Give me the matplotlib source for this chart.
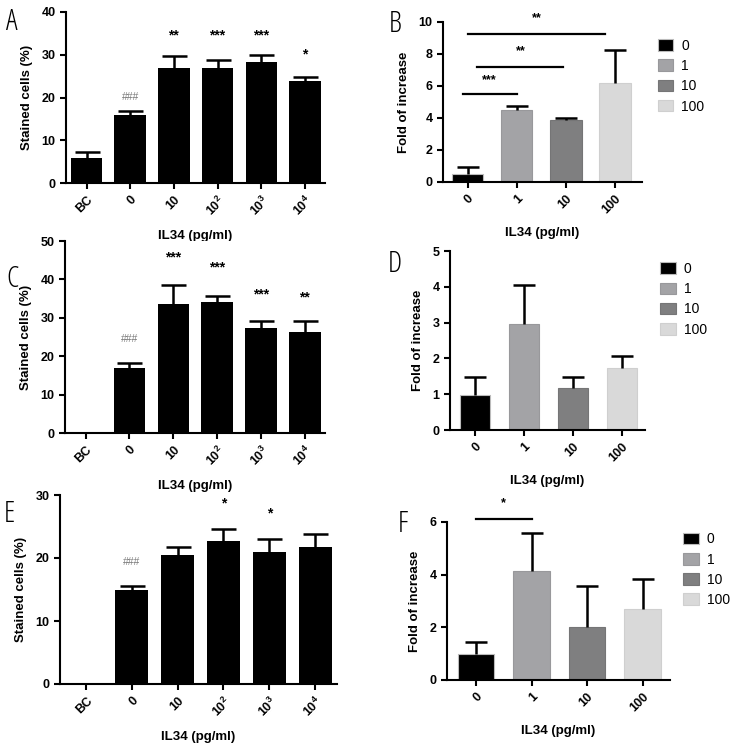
import matplotlib.pyplot as plt
import numpy as np

plt.rcParams['font.family'] = ['Liberation Sans', 'DejaVu Sans']
plt.rcParams['mathtext.fontset'] = 'custom'
plt.rcParams['mathtext.bf'] = 'Liberation Sans:bold'
plt.rcParams['mathtext.rm'] = 'Liberation Sans'

# stained cells panels (A, C, E)
dose_labels = ['BC', '0', '10', r'$\mathbf{10^{2}}$', r'$\mathbf{10^{3}}$', r'$\mathbf{10^{4}}$']
a_vals = [5.9, 15.8, 27.0, 26.8, 28.3, 23.8]
a_err = [1.3, 1.0, 2.6, 1.9, 1.7, 1.0]
a_marks = ['', '###', '**', '***', '***', '*']
a_mark_y = [0, 20.2, 34.6, 34.6, 34.6, 30.0]

c_vals = [0, 16.9, 33.7, 34.2, 27.3, 26.4]
c_err = [0, 1.3, 4.9, 1.5, 1.9, 2.7]
c_marks = ['', '###', '***', '***', '***', '**']
c_mark_y = [0, 24.4, 45.6, 43.2, 36.0, 35.4]

e_vals = [0, 14.9, 20.5, 22.7, 21.0, 21.7]
e_err = [0, 0.7, 1.3, 1.9, 2.0, 2.1]
e_marks = ['', '###', '', '*', '*', '']
e_mark_y = [0, 19.3, 0, 28.6, 27.1, 0]

# fold of increase panels (B, D, F)
fold_labels = ['0', '1', '10', '100']
fold_colors = ['#000000', '#a3a3a6', '#7f7f80', '#d9d9d9']
b_vals = [0.5, 4.47, 3.88, 6.16]
b_err = [0.42, 0.3, 0.14, 2.1]
d_vals = [0.99, 2.97, 1.16, 1.72]
d_err = [0.5, 1.07, 0.31, 0.34]
f_vals = [1.0, 4.15, 2.0, 2.68]
f_err = [0.43, 1.43, 1.57, 1.16]

W, H = 730, 743
fig = plt.figure(figsize=(W / 100, H / 100), dpi=100)


def px_axes(l, r, t, b):
    return fig.add_axes([l / W, 1 - b / H, (r - l) / W, (b - t) / H])


def style(ax, ylabel):
    for s in ['top', 'right']:
        ax.spines[s].set_visible(False)
    for s in ['left', 'bottom']:
        ax.spines[s].set_linewidth(1.5)
    ax.tick_params(width=1.5, length=4, labelsize=9)
    for lab in ax.get_yticklabels():
        lab.set_fontweight('bold')
    ax.set_ylabel(ylabel, fontsize=9.5, fontweight='bold', labelpad=6)
    ax.set_xlabel('IL34 (pg/ml)', fontsize=9.5, fontweight='bold', labelpad=8)


def upper_err(ax, x, vals, err, cap):
    # only the upper half of the error bar, as in the original
    low = np.zeros(len(vals))
    eb = ax.errorbar(x, vals, yerr=[low, err], fmt='none', ecolor='black',
                     elinewidth=1.8, capsize=cap, capthick=1.8)
    eb[1][0].set_visible(False)


def stained(ax, vals, err, marks, mark_y, ymax, ystep, xlim):
    x = np.arange(len(vals))
    ax.bar(x, vals, width=0.72, color='black')
    upper_err(ax, x, vals, err, 9)
    for xi, m, my in zip(x, marks, mark_y):
        if m.startswith('#'):
            ax.text(xi, my, m, ha='center', va='center', fontsize=7.5, color='#777777')
        elif m:
            ax.text(xi, my, m, ha='center', va='center', fontsize=10, fontweight='bold')
    ax.set_xlim(*xlim)
    ax.set_ylim(0, ymax)
    ax.set_yticks(np.arange(0, ymax + 0.1, ystep))
    ax.set_xticks(x)
    ax.set_xticklabels(dose_labels, rotation=45, ha='right', rotation_mode='anchor',
                       fontweight='bold', fontsize=10)
    style(ax, 'Stained cells (%)')


def fold(ax, vals, err, ymax, ystep, xlim, width, leg_anchor):
    x = np.arange(len(vals))
    bars = ax.bar(x, vals, width=width, color=fold_colors,
                  edgecolor=['#bbbbbb', '#98989b', '#757576', '#cfcfcf'], linewidth=0.8)
    upper_err(ax, x, vals, err, 8)
    ax.set_xlim(*xlim)
    ax.set_ylim(0, ymax)
    ax.set_yticks(np.arange(0, ymax + 0.1, ystep))
    ax.set_xticks(x)
    ax.set_xticklabels(fold_labels, rotation=45, ha='right', rotation_mode='anchor',
                       fontweight='bold', fontsize=9.5)
    style(ax, 'Fold of increase')
    ax.legend(bars, fold_labels, loc='upper left', bbox_to_anchor=leg_anchor,
              frameon=False, fontsize=10, handlelength=1.1, handleheight=0.9,
              labelspacing=0.45, handletextpad=0.6, borderaxespad=0)


def sig(ax, x0, x1, y, text, ty):
    ax.plot([x0, x1], [y, y], color='black', lw=1.6, clip_on=False)
    ax.text((x0 + x1) / 2, ty, text, ha='center', va='center', fontsize=9,
            fontweight='bold', clip_on=False)


axA = px_axes(66, 325, 12, 183)
stained(axA, a_vals, a_err, a_marks, a_mark_y, 40, 10, (-0.47, 5.46))

axB = px_axes(443, 642, 22, 182)
fold(axB, b_vals, b_err, 10, 2, (-0.5, 3.55), 0.64, (1.05, 0.93))
sig(axB, -0.1, 1.0, 5.48, '***', 6.37)
sig(axB, 0.2, 1.95, 7.16, '**', 8.2)
sig(axB, 0.0, 2.8, 9.23, '**', 10.27)

axC = px_axes(65, 325, 241, 433)
stained(axC, c_vals, c_err, c_marks, c_mark_y, 50, 10, (-0.47, 5.46))

axD = px_axes(450, 645, 251, 430)
fold(axD, d_vals, d_err, 5, 1, (-0.51, 3.47), 0.61, (1.05, 0.97))

axE = px_axes(60, 337, 495, 684)
stained(axE, e_vals, e_err, e_marks, e_mark_y, 30, 10, (-0.57, 5.48))

axF = px_axes(447, 670, 522, 680)
fold(axF, f_vals, f_err, 6, 2, (-0.52, 3.49), 0.66, (1.035, 0.97))
sig(axF, 0.0, 1.0, 6.1, '*', 6.73)

# panel letters
for lx, ly, letter in [(6, 30, 'A'), (389, 32, 'B'), (6, 287, 'C'),
                       (388, 272, 'D'), (4, 522, 'E'), (398, 532, 'F')]:
    fig.text(lx / W, 1 - ly / H, letter, fontsize=21, family='Open Sans',
             fontweight='light', va='baseline', fontstretch='condensed')

fig.savefig('out.png', dpi=100)
